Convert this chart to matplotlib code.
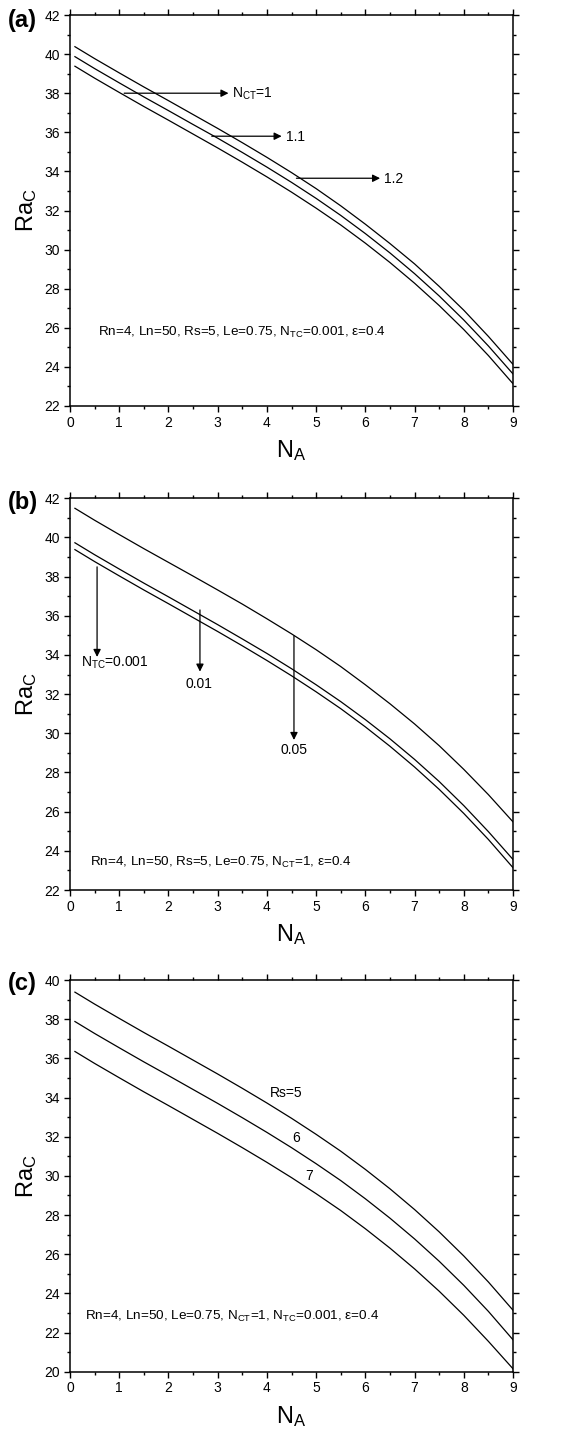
import matplotlib
matplotlib.use('Agg')
from matplotlib import pyplot as plt
from matplotlib.ticker import MultipleLocator

plt.rcParams['font.family'] = ['Liberation Sans', 'DejaVu Sans']
plt.rcParams['mathtext.fontset'] = 'custom'
plt.rcParams['mathtext.rm'] = 'Liberation Sans'
plt.rcParams['mathtext.it'] = 'Liberation Sans:italic'
plt.rcParams['mathtext.bf'] = 'Liberation Sans:bold'

# N_A on the x axis
n_a = [0.1, 0.5, 1, 1.5, 2, 2.5, 3, 3.5, 4, 4.5, 5, 5.5, 6, 6.5, 7, 7.5, 8, 8.5, 9]

# common case: Rn=4, Ln=50, Rs=5, Le=0.75, N_CT=1, N_TC=0.001, eps=0.4
ra_base = [39.38, 38.77, 38.04, 37.32, 36.62, 35.91, 35.20, 34.47, 33.72, 32.94,
           32.12, 31.26, 30.33, 29.34, 28.28, 27.14, 25.91, 24.58, 23.14]
# (a) N_CT = 1.1, 1.2
ra_nct_11 = [39.87, 39.26, 38.53, 37.81, 37.11, 36.40, 35.70, 34.97, 34.22, 33.44,
             32.62, 31.75, 30.82, 29.83, 28.77, 27.63, 26.40, 25.07, 23.64]
ra_nct_12 = [40.38, 39.77, 39.04, 38.32, 37.62, 36.91, 36.20, 35.47, 34.72, 33.94,
             33.12, 32.24, 31.30, 30.31, 29.27, 28.12, 26.90, 25.56, 24.13]
# (b) N_TC = 0.01, 0.05
ra_ntc_001 = [39.73, 39.12, 38.39, 37.67, 36.97, 36.26, 35.55, 34.82, 34.08, 33.30,
              32.48, 31.62, 30.70, 29.72, 28.67, 27.54, 26.31, 24.98, 23.56]
ra_ntc_005 = [41.49, 40.88, 40.15, 39.43, 38.73, 38.03, 37.32, 36.60, 35.85, 35.08,
              34.27, 33.41, 32.48, 31.51, 30.48, 29.37, 28.16, 26.87, 25.48]
# (c) Rs = 6, 7
ra_rs6 = [37.88, 37.27, 36.54, 35.82, 35.12, 34.41, 33.70, 32.97, 32.22, 31.44,
          30.62, 29.76, 28.83, 27.84, 26.78, 25.64, 24.41, 23.08, 21.63]
ra_rs7 = [36.35, 35.74, 35.01, 34.29, 33.59, 32.88, 32.17, 31.44, 30.69, 29.91,
          29.09, 28.23, 27.30, 26.31, 25.25, 24.11, 22.88, 21.55, 20.15]

# arrow annotations in (a): label, y level, x start, x end
nct_labels = [r'N$_{\rm CT}$=1', '1.1', '1.2']
nct_arrow_y = [38.0, 35.8, 33.65]
nct_arrow_x0 = [1.10, 2.88, 4.60]
nct_arrow_x1 = [3.22, 4.30, 6.30]

# arrow annotations in (b): label, x, y start, y end, label position
ntc_labels = [r'N$_{\rm TC}$=0.001', '0.01', '0.05']
ntc_arrow_x = [0.55, 2.64, 4.55]
ntc_arrow_y0 = [38.5, 36.3, 34.98]
ntc_arrow_y1 = [33.9, 33.15, 29.66]
ntc_label_x = [0.92, 2.62, 4.55]
ntc_label_y = [33.4, 32.3, 28.94]

# curve labels in (c)
rs_labels = ['Rs=5', '6', '7']
rs_label_x = [4.4, 4.6, 4.86]
rs_label_y = [34.04, 31.71, 29.78]

fig = plt.figure(figsize=(5.67, 14.33), dpi=100)
ax_a = fig.add_axes([0.12346, 0.71668, 0.78131, 0.27285])
ax_b = fig.add_axes([0.12346, 0.37892, 0.78131, 0.27334])
ax_c = fig.add_axes([0.12346, 0.04278, 0.78131, 0.27334])


def style_axes(ax, ymin, ymax):
    ax.set_xlim(0, 9)
    ax.set_ylim(ymin, ymax)
    ax.xaxis.set_major_locator(MultipleLocator(1))
    ax.xaxis.set_minor_locator(MultipleLocator(0.5))
    ax.yaxis.set_major_locator(MultipleLocator(2))
    ax.yaxis.set_minor_locator(MultipleLocator(1))
    ax.tick_params(which='both', direction='out', top=True, right=True,
                   labelsize=10, width=1.0, pad=3)
    ax.tick_params(which='major', length=4)
    ax.tick_params(which='minor', length=2.5)
    for sp in ax.spines.values():
        sp.set_linewidth(1.1)
    ax.set_xlabel(r'N$_{\rm A}$', fontsize=17, labelpad=6)
    ax.set_ylabel(r'Ra$_{\rm C}$', fontsize=17, labelpad=4)


line_kw = dict(color='k', lw=0.9)
arrow_kw = dict(arrowstyle='-|>', color='k', lw=0.9, mutation_scale=11,
                shrinkA=0, shrinkB=0)

# (a) effect of N_CT
for ys in (ra_base, ra_nct_11, ra_nct_12):
    ax_a.plot(n_a, ys, **line_kw)
for lab, y, x0, x1 in zip(nct_labels, nct_arrow_y, nct_arrow_x0, nct_arrow_x1):
    ax_a.annotate('', xy=(x1, y), xytext=(x0, y), arrowprops=arrow_kw)
    ax_a.text(x1 + 0.08, y - 0.22, lab, fontsize=10, ha='left', va='baseline')
ax_a.text(0.57, 25.6, r'Rn=4, Ln=50, Rs=5, Le=0.75, N$_{\rm TC}$=0.001, ε=0.4',
          fontsize=9.7, ha='left', va='baseline')
style_axes(ax_a, 22, 42)

# (b) effect of N_TC
for ys in (ra_base, ra_ntc_001, ra_ntc_005):
    ax_b.plot(n_a, ys, **line_kw)
for lab, x, y0, y1, lx, ly in zip(ntc_labels, ntc_arrow_x, ntc_arrow_y0,
                                  ntc_arrow_y1, ntc_label_x, ntc_label_y):
    ax_b.annotate('', xy=(x, y1), xytext=(x, y0), arrowprops=arrow_kw)
    ax_b.text(lx, ly, lab, fontsize=10, ha='center', va='baseline')
ax_b.text(0.41, 23.24, r'Rn=4, Ln=50, Rs=5, Le=0.75, N$_{\rm CT}$=1, ε=0.4',
          fontsize=9.7, ha='left', va='baseline')
style_axes(ax_b, 22, 42)

# (c) effect of Rs
for ys in (ra_base, ra_rs6, ra_rs7):
    ax_c.plot(n_a, ys, **line_kw)
for lab, x, y in zip(rs_labels, rs_label_x, rs_label_y):
    ax_c.text(x, y, lab, fontsize=10, ha='center', va='baseline')
ax_c.text(0.30, 22.64,
          r'Rn=4, Ln=50, Le=0.75, N$_{\rm CT}$=1, N$_{\rm TC}$=0.001, ε=0.4',
          fontsize=9.7, ha='left', va='baseline')
style_axes(ax_c, 20, 40)

for lab, y in zip(['(a)', '(b)', '(c)'], [0.986, 0.649, 0.314]):
    fig.text(0.04, y, lab, fontsize=17, fontweight='bold', ha='center',
             va='center')

fig.savefig('out.png', dpi=100)
